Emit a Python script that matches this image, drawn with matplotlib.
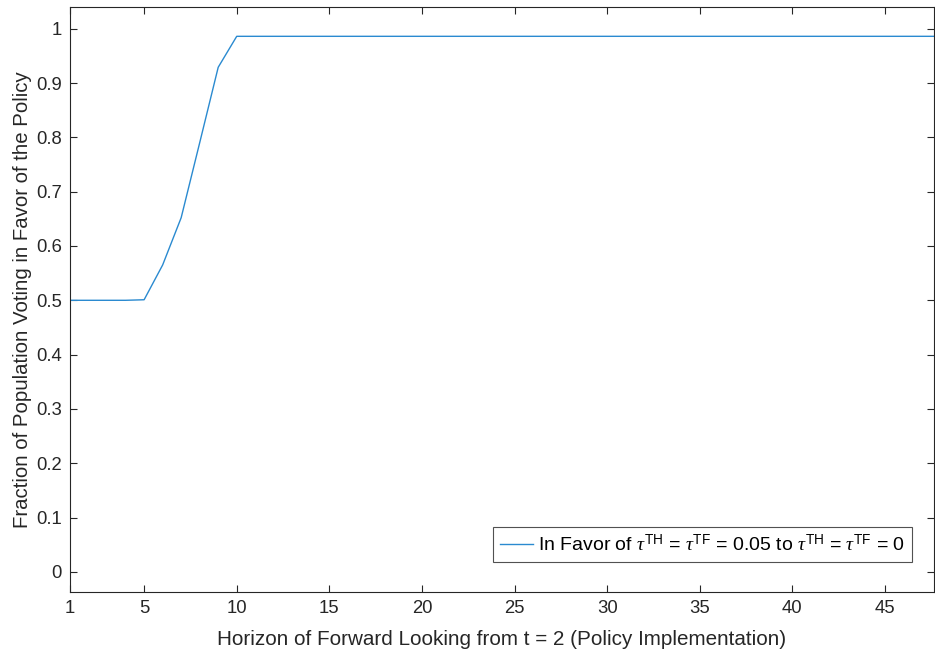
import matplotlib
matplotlib.use('Agg')
from matplotlib import pyplot as plt

# horizon of forward looking (t) and share voting in favour
horizon = list(range(1, 49))
share_in_favor = [0.5, 0.5, 0.5, 0.5, 0.501, 0.565, 0.652, 0.79, 0.929, 0.986,
                  0.986, 0.986, 0.986, 0.986, 0.986, 0.986, 0.986, 0.986, 0.986, 0.986,
                  0.986, 0.986, 0.986, 0.986, 0.986, 0.986, 0.986, 0.986, 0.986, 0.986,
                  0.986, 0.986, 0.986, 0.986, 0.986, 0.986, 0.986, 0.986, 0.986, 0.986,
                  0.986, 0.986, 0.986, 0.986, 0.986, 0.986, 0.986, 0.986]
x_ticks = [1, 5, 10, 15, 20, 25, 30, 35, 40, 45]
y_ticks = [0, 0.1, 0.2, 0.3, 0.4, 0.5, 0.6, 0.7, 0.8, 0.9, 1]
y_tick_labels = ['0', '0.1', '0.2', '0.3', '0.4', '0.5', '0.6', '0.7', '0.8', '0.9', '1']
legend_label = (r'In Favor of $\tau^{\rm TH}$ = $\tau^{\rm TF}$ = 0.05 to '
                r'$\tau^{\rm TH}$ = $\tau^{\rm TF}$ = 0')

plt.rcParams['font.family'] = ['Liberation Sans', 'DejaVu Sans']
plt.rcParams['mathtext.fontset'] = 'custom'
plt.rcParams['mathtext.rm'] = 'Liberation Sans'
plt.rcParams['mathtext.it'] = 'Liberation Serif:italic'

axis_grey = '#262626'

fig = plt.figure(figsize=(9.35, 6.59), dpi=100)
ax = fig.add_axes([0.0749, 0.1017, 0.9241, 0.8877])

ax.plot(horizon, share_in_favor, color='#2a8ad0', linewidth=1.0, label=legend_label)

ax.set_xlim(1, 47.65)
ax.set_ylim(-0.037, 1.04)
ax.set_xticks(x_ticks)
ax.set_yticks(y_ticks)
ax.set_yticklabels(y_tick_labels)

ax.tick_params(direction='in', top=True, right=True, length=5, width=0.8,
               colors=axis_grey, labelsize=13.3, pad=6)
for sp in ax.spines.values():
    sp.set_color(axis_grey)
    sp.set_linewidth(0.8)

ax.set_xlabel('Horizon of Forward Looking from t = 2 (Policy Implementation)',
              fontsize=14.9, color=axis_grey, labelpad=9)
ax.set_ylabel('Fraction of Population Voting in Favor of the Policy',
              fontsize=14.7, color=axis_grey, labelpad=3)

leg = ax.legend(loc='lower right', fontsize=14, frameon=True, fancybox=False,
                borderpad=0.35, handlelength=1.7, handletextpad=0.25,
                borderaxespad=0, bbox_to_anchor=(0.9745, 0.0513))
leg.get_frame().set_edgecolor(axis_grey)
leg.get_frame().set_linewidth(0.8)

fig.savefig('out.png', dpi=100)
